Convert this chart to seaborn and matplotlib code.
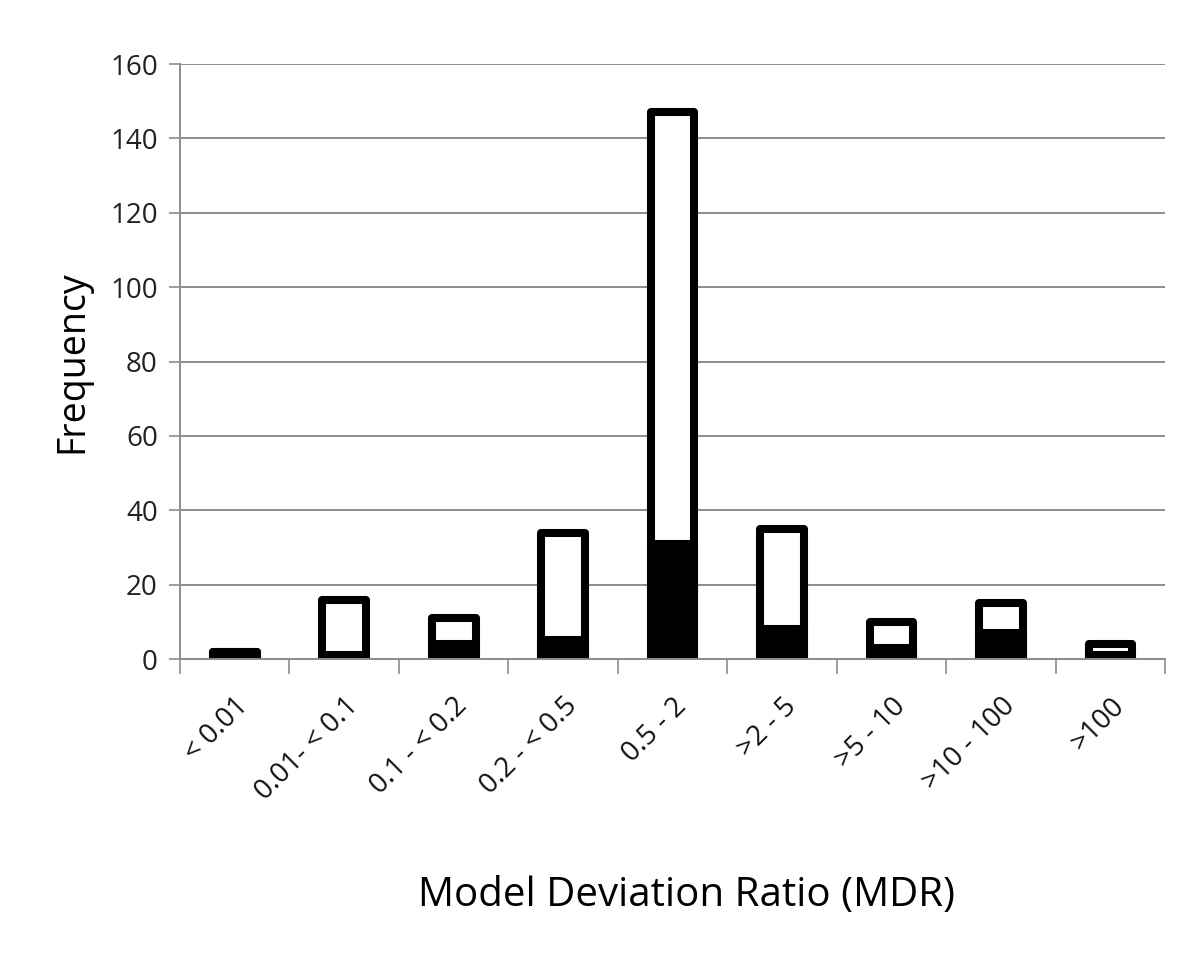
import matplotlib
matplotlib.use("Agg")
import matplotlib.pyplot as plt
import seaborn as sns
import pandas as pd

# Kategorien der MDR-Klassen und Häufigkeiten
categories = ["< 0.01", "0.01- < 0.1", "0.1 - < 0.2", "0.2 - < 0.5", "0.5 - 2",
              ">2 - 5", ">5 - 10", ">10 - 100", ">100"]
total_counts = [2, 16, 11, 34, 147, 35, 10, 15, 4]
black_counts = [2, 1, 4, 5, 31, 8, 3, 7, 1]
y_ticks = [0, 20, 40, 60, 80, 100, 120, 140, 160]

sns.set_theme(style="white")
plt.rcParams['font.family'] = ['Open Sans', 'DejaVu Sans']
plt.rcParams['text.color'] = 'black'
plt.rcParams['axes.labelcolor'] = 'black'
plt.rcParams['xtick.color'] = 'black'
plt.rcParams['ytick.color'] = 'black'

df = pd.DataFrame({"MDR": categories, "total": total_counts, "black": black_counts})

fig = plt.figure(figsize=(12, 9.6), dpi=100)
ax = fig.add_axes([0.15, 0.3135, 0.821, 0.6198])

grey = "#8c8c8c"
ax.set_axisbelow(True)
ax.yaxis.grid(True, color=grey, linewidth=1.4)
ax.xaxis.grid(False)

# weisser Gesamtbalken, schwarzer Anteil darueber
sns.barplot(data=df, x="MDR", y="total", color="white", edgecolor="black",
            linewidth=5.8, width=0.4, saturation=1, ax=ax)
sns.barplot(data=df, x="MDR", y="black", color="black", edgecolor="black",
            linewidth=5.8, width=0.4, saturation=1, ax=ax)
for p in ax.patches:
    p.set_joinstyle("round")

ax.set_xlim(-0.5, len(categories) - 0.5)
ax.set_ylim(0, 160)
ax.set_yticks(y_ticks)
ax.tick_params(axis="y", which="major", length=8, width=1.2, color=grey,
               labelsize=20, labelcolor="#222222", pad=8, left=True)

# Striche an den Kategoriegrenzen
ax.set_xticks([i - 0.5 for i in range(len(categories) + 1)], minor=True)
ax.tick_params(axis="x", which="minor", length=11, width=1.2, color=grey, bottom=True)
ax.tick_params(axis="x", which="major", length=0, labelsize=20, labelcolor="#111111", pad=24)
ax.set_xticks(range(len(categories)))
ax.set_xticklabels(categories, rotation=45, ha="right", rotation_mode="anchor")

for side in ["top", "right"]:
    ax.spines[side].set_visible(False)
for side in ["left", "bottom"]:
    ax.spines[side].set_color(grey)
    ax.spines[side].set_linewidth(1.4)

ax.set_xlabel("Model Deviation Ratio (MDR)", fontsize=29)
ax.set_ylabel("Frequency", fontsize=27)
ax.xaxis.set_label_coords(0.514, -0.363)
ax.yaxis.set_label_coords(-0.09, 0.5)

fig.savefig("out.png", dpi=100)
